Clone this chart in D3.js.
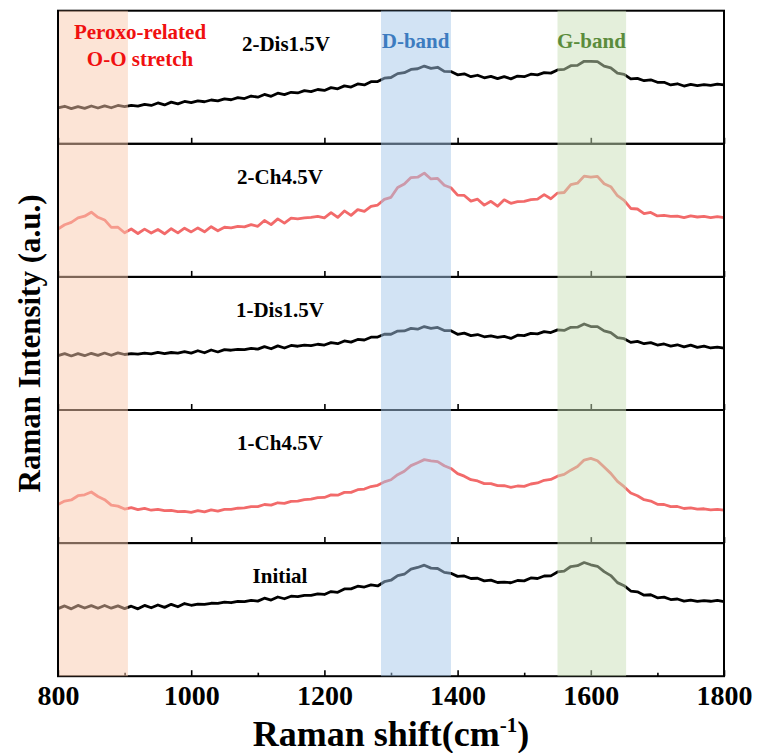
<!DOCTYPE html>
<html>
<head>
<meta charset="utf-8">
<script src="https://cdn.jsdelivr.net/npm/d3@7"></script>
<style>
    body { margin: 0; background: #fff; }
</style>
</head>
<body>
<svg id="chart" width="758" height="753"></svg>
<script>
// Raman shift grid (cm-1), one reading every 10
const shifts = d3.range(800, 1801, 10);

// intensities, 0..100 inside each panel
const dis2 = [
    27.0, 28.2, 26.4, 27.9, 26.6, 28.4, 26.9, 28.5, 27.1, 28.8,
    28.0, 28.9, 28.3, 29.6, 28.8, 30.7, 29.2, 31.3, 30.0, 31.8,
    30.9, 32.2, 31.6, 32.9, 32.3, 33.8, 33.1, 34.7, 34.0, 35.9,
    35.0, 37.1, 35.7, 38.0, 37.0, 38.7, 38.2, 39.9, 39.2, 40.8,
    40.1, 42.2, 41.3, 43.5, 42.6, 45.0, 44.2, 46.7, 46.8, 49.3,
    49.8, 52.7, 53.4, 55.9, 56.4, 58.4, 56.7, 57.5, 54.4, 54.3,
    51.8, 52.6, 50.4, 51.5, 49.6, 50.7, 49.0, 50.5, 48.8, 50.9,
    50.4, 52.3, 51.8, 53.5, 53.1, 55.5, 55.9, 58.7, 58.9, 62.0,
    61.9, 61.8, 58.4, 57.1, 53.1, 52.1, 48.8, 49.2, 47.4, 48.1,
    46.2, 46.2, 44.2, 45.1, 43.4, 44.6, 43.7, 44.4, 43.9, 44.8,
    44.3
];
const ch2 = [
    36.0, 39.2, 41.0, 44.3, 45.6, 48.6, 44.8, 42.8, 37.2, 37.3,
    33.2, 36.0, 32.6, 35.9, 33.0, 35.6, 32.4, 36.2, 33.1, 36.6,
    33.8, 36.8, 33.9, 37.7, 34.7, 37.3, 36.9, 38.0, 37.6, 39.3,
    38.0, 42.4, 39.3, 43.6, 40.4, 44.1, 43.6, 44.3, 44.7, 45.5,
    44.4, 48.3, 44.7, 49.6, 46.2, 50.5, 49.2, 53.0, 54.0, 58.2,
    59.8, 67.2, 69.8, 74.6, 74.9, 78.0, 73.6, 74.0, 68.9, 67.0,
    61.4, 61.2, 56.9, 58.4, 53.9, 56.8, 53.1, 57.9, 55.3, 56.5,
    56.8, 58.1, 58.4, 61.8, 58.7, 63.0, 63.4, 69.4, 70.4, 75.7,
    74.9, 75.5, 70.0, 67.8, 61.0, 57.5, 51.4, 51.0, 47.6, 48.4,
    45.8, 46.2, 45.4, 45.6, 44.6, 45.8, 45.0, 45.4, 44.5, 45.3,
    44.6
];
const dis1 = [
    40.8, 42.3, 40.6, 42.3, 40.8, 42.6, 41.0, 42.8, 41.1, 42.9,
    41.7, 42.4, 42.0, 42.7, 42.1, 43.3, 42.4, 43.2, 42.8, 43.8,
    42.7, 44.5, 43.0, 45.1, 43.6, 45.4, 44.9, 45.6, 45.4, 46.3,
    45.7, 47.6, 46.0, 48.2, 46.6, 48.5, 47.9, 48.8, 48.4, 49.4,
    48.8, 50.6, 49.8, 51.9, 51.0, 53.0, 52.6, 54.7, 54.8, 56.9,
    56.9, 59.3, 59.4, 61.3, 60.7, 62.7, 61.4, 62.0, 59.7, 59.6,
    56.9, 57.8, 55.9, 56.7, 55.0, 55.7, 54.6, 55.3, 53.8, 56.2,
    55.9, 57.6, 57.2, 58.9, 58.2, 60.2, 59.8, 62.1, 62.2, 64.6,
    62.7, 62.6, 59.4, 58.1, 54.4, 53.6, 50.8, 51.6, 49.8, 50.6,
    48.8, 49.6, 48.0, 49.0, 47.4, 48.7, 47.0, 48.0, 46.6, 47.2,
    46.4
];
const ch1 = [
    29.0, 31.6, 32.4, 35.6, 36.3, 38.4, 35.0, 32.6, 28.6, 27.8,
    25.6, 26.6, 25.1, 26.1, 24.7, 25.4, 24.4, 24.5, 23.6, 23.9,
    23.1, 24.4, 23.5, 25.0, 24.1, 25.4, 25.3, 26.2, 26.4, 27.4,
    27.4, 29.0, 28.5, 30.3, 29.8, 31.4, 31.5, 32.7, 33.0, 34.2,
    34.3, 36.2, 36.0, 38.1, 38.1, 40.1, 40.6, 42.5, 43.4, 46.0,
    47.6, 51.4, 54.0, 58.2, 60.4, 62.7, 61.8, 61.2, 58.1, 56.1,
    52.2, 50.3, 47.6, 46.7, 44.7, 44.7, 43.2, 43.1, 41.9, 42.9,
    42.6, 44.4, 45.2, 47.2, 47.8, 50.3, 51.6, 54.8, 57.6, 62.4,
    63.6, 61.9, 57.1, 52.4, 46.4, 42.4, 37.6, 35.6, 32.6, 31.6,
    29.2, 29.0, 27.4, 27.5, 26.0, 26.4, 25.5, 25.8, 25.0, 25.4,
    24.8
];
const initial = [
    50.8, 52.8, 50.6, 53.2, 51.2, 53.0, 51.0, 53.1, 51.1, 52.8,
    50.8, 52.6, 50.6, 53.2, 51.4, 53.5, 51.7, 54.0, 52.2, 54.6,
    53.3, 54.2, 54.0, 54.8, 54.7, 55.6, 55.2, 56.2, 56.0, 57.0,
    56.4, 58.6, 57.2, 59.5, 58.2, 60.1, 59.8, 60.8, 60.7, 61.8,
    61.4, 63.6, 63.0, 65.6, 65.6, 67.6, 67.0, 68.6, 67.8, 71.0,
    72.1, 75.6, 76.6, 80.4, 81.7, 83.4, 81.2, 80.9, 78.0, 77.3,
    75.0, 75.3, 73.4, 73.6, 71.6, 72.2, 70.4, 70.7, 70.2, 71.9,
    71.6, 73.8, 73.4, 75.3, 75.4, 78.3, 79.0, 82.4, 83.0, 85.4,
    83.7, 82.6, 78.6, 75.6, 70.3, 68.0, 64.0, 63.4, 60.9, 61.2,
    58.9, 59.4, 57.6, 58.0, 56.4, 57.1, 56.2, 56.8, 56.3, 56.9,
    56.0
];

// panels from top to bottom
const panelNames = ["2-Dis1.5V", "2-Ch4.5V", "1-Dis1.5V", "1-Ch4.5V", "Initial"];
const panelSeries = [dis2, ch2, dis1, ch1, initial];
const panelIsCharged = [false, true, false, true, false];

// highlighted regions (cm-1)
const bandStart = [800, 1285, 1550];
const bandEnd = [905, 1390, 1653];
const bandFill = ["#f9c9ad", "#a5c7e9", "#c9dfb7"];

const majorTicks = [800, 1000, 1200, 1400, 1600, 1800];
const minorTicks = [900, 1100, 1300, 1500, 1700];

// layout
const marginLeft = 58, marginTop = 10.7, plotW = 666, panelH = 133.1;
const nPanels = panelNames.length;
const serif = "'Liberation Serif', 'Times New Roman', serif";

const svg = d3.select("#chart");
const plot = svg.append("g").attr("transform", `translate(${marginLeft}, ${marginTop})`);

const x = d3.scaleLinear().domain([800, 1800]).range([0, plotW]);
const y = d3.scaleLinear().domain([0, 100]).range([panelH, 0]);

const line = d3.line()
    .x((d, i) => x(shifts[i]))
    .y(d => y(d));

// small helper so every label gets the same bold serif look
function addText(parent, size, color) {
    return parent.append("text")
        .style("font-family", serif)
        .style("font-weight", "bold")
        .style("font-size", size + "px")
        .attr("fill", color);
}

// draw each panel
panelSeries.forEach((series, p) => {
    let g = plot.append("g").attr("transform", `translate(0, ${p * panelH})`);

    g.append("path")
        .datum(series)
        .attr("d", line)
        .style("fill", "none")
        .style("stroke", panelIsCharged[p] ? "#f26a6a" : "#000")
        .style("stroke-width", 2.8)
        .style("stroke-linejoin", "round");

    // inward ticks on the bottom edge of the panel
    let axis = d3.axisBottom(x)
        .tickValues(majorTicks)
        .tickSize(-6)
        .tickFormat("");
    let ag = g.append("g").attr("transform", `translate(0, ${panelH})`).call(axis);
    ag.select(".domain").remove();
    ag.selectAll("line").attr("stroke", "#000").attr("stroke-width", 1.6);

    // panel label
    addText(g, 21, "#000")
        .attr("x", p === 0 ? 228 : 222)
        .attr("y", 40)
        .attr("text-anchor", "middle")
        .text(panelNames[p]);

    // frame
    g.append("rect")
        .attr("width", plotW)
        .attr("height", panelH)
        .attr("fill", "none")
        .attr("stroke", "#000")
        .attr("stroke-width", 2);
});

// bottom axis with labels and minor ticks
const bottom = plot.append("g").attr("transform", `translate(0, ${nPanels * panelH})`);
bottom.call(d3.axisBottom(x).tickValues(minorTicks).tickSize(-3.5).tickFormat(""))
    .call(g => g.select(".domain").remove())
    .selectAll("line").attr("stroke", "#000").attr("stroke-width", 1.6);

const labelAxis = plot.append("g").attr("transform", `translate(0, ${nPanels * panelH})`)
    .call(d3.axisBottom(x).tickValues(majorTicks).tickSize(0).tickPadding(9).tickFormat(d3.format("d")));
labelAxis.select(".domain").remove();
labelAxis.selectAll("text")
    .style("font-family", serif)
    .style("font-weight", "bold")
    .style("font-size", "28px")
    .attr("fill", "#000");

// shaded bands go over the lines, so the spectra look tinted inside
plot.append("g").selectAll("rect")
    .data(bandStart)
    .enter()
    .append("rect")
    .attr("x", (d, i) => x(d) + (i === 0 ? 1 : 0))
    .attr("y", 0)
    .attr("width", (d, i) => x(bandEnd[i]) - x(d) - (i === 0 ? 1 : 0))
    .attr("height", nPanels * panelH)
    .attr("fill", (d, i) => bandFill[i])
    .attr("opacity", 0.5);

// band labels
const peroxo = addText(plot, 21, "#f01010")
    .attr("y", 28)
    .attr("text-anchor", "middle");
peroxo.append("tspan").attr("x", 82).text("Peroxo-related");
peroxo.append("tspan").attr("x", 82).attr("dy", 27).text("O-O stretch");

addText(plot, 21, "#3d7cc0")
    .attr("x", x(1337))
    .attr("y", 37)
    .attr("text-anchor", "middle")
    .text("D-band");

addText(plot, 21, "#5b8c3c")
    .attr("x", x(1601))
    .attr("y", 37)
    .attr("text-anchor", "middle")
    .text("G-band");

// axis titles
const xTitle = addText(svg, 36, "#000")
    .attr("x", marginLeft + plotW / 2)
    .attr("y", 746)
    .attr("text-anchor", "middle");
xTitle.append("tspan").text("Raman shift(cm");
xTitle.append("tspan").attr("dy", -14).style("font-size", "21px").text("-1");
xTitle.append("tspan").attr("dy", 14).text(")");

addText(svg, 31, "#000")
    .attr("transform", `translate(40, ${marginTop + nPanels * panelH / 2}) rotate(-90)`)
    .attr("text-anchor", "middle")
    .text("Raman Intensity (a.u.)");
</script>
</body>
</html>
